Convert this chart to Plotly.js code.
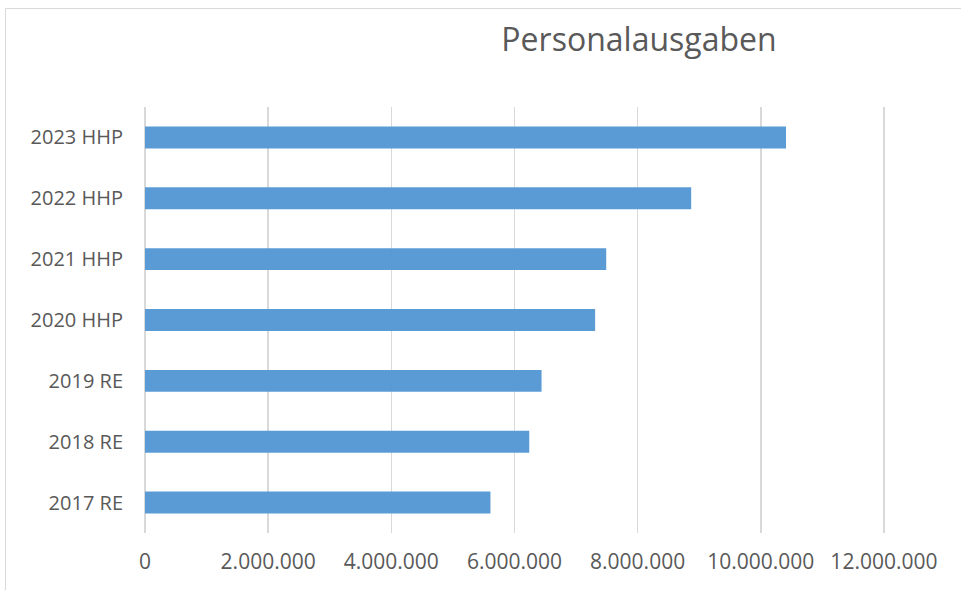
<!DOCTYPE html>
<html>
<head>
<meta charset="utf-8">
<script src="https://cdn.plot.ly/plotly-3.0.1.min.js"></script>
<style>
html,body{margin:0;padding:0;background:#fff;}
#chart{width:961px;height:590px;}
</style>
</head>
<body>
<div id="chart"></div>
<script>
const categories = ['2017 RE','2018 RE','2019 RE','2020 HHP','2021 HHP','2022 HHP','2023 HHP'];
const values = [5610000, 6240000, 6440000, 7310000, 7490000, 8870000, 10410000];
const tickValues = [0, 2000000, 4000000, 6000000, 8000000, 10000000, 12000000];
const titleText = 'Personalausgaben';

const W = 961, H = 590;
const m = {l:145, r:74, t:107, b:57};
const pw = W - m.l - m.r, ph = H - m.t - m.b;
const px = v => (v - m.l) / pw;
const py = v => (H - m.b - v) / ph;

const font = '"Open Sans", "Noto Sans", sans-serif';

Plotly.newPlot('chart', [{
  type: 'bar',
  orientation: 'h',
  y: categories,
  x: values,
  marker: {color: '#5b9bd5'},
  hoverinfo: 'x+y'
}], {
  width: W, height: H,
  margin: m,
  paper_bgcolor: '#fff',
  plot_bgcolor: '#fff',
  separators: ',.',
  bargap: 0.64,
  showlegend: false,
  title: {
    text: titleText,
    font: {family: font, size: 32, color: '#595959'},
    xref: 'container', x: 639 / W, xanchor: 'center',
    yref: 'container', y: 1 - 40 / H, yanchor: 'middle'
  },
  xaxis: {
    range: [0, 12050000],
    tickvals: tickValues,
    tickformat: ',d',
    showgrid: true,
    gridcolor: '#d9d9d9',
    gridwidth: 1.5,
    zeroline: true,
    zerolinecolor: '#d9d9d9',
    zerolinewidth: 1.5,
    showline: false,
    ticks: '',
    ticklabelstandoff: 14,
    tickfont: {family: font, size: 21, color: '#595959'},
    fixedrange: true
  },
  yaxis: {
    type: 'category',
    categoryorder: 'array',
    categoryarray: categories,
    showgrid: false,
    zeroline: false,
    showline: false,
    ticks: '',
    ticklabelstandoff: 21,
    tickfont: {family: font, size: 20, color: '#595959'},
    fixedrange: true
  },
  shapes: [
    {type: 'line', xref: 'paper', yref: 'paper', x0: px(5.5), x1: px(5.5), y0: py(8.5), y1: py(595), line: {color: '#d9d9d9', width: 1}},
    {type: 'line', xref: 'paper', yref: 'paper', x0: px(5.5), x1: px(965), y0: py(8.5), y1: py(8.5), line: {color: '#d9d9d9', width: 1}}
  ]
}, {displayModeBar: false, staticPlot: true});
</script>
</body>
</html>
